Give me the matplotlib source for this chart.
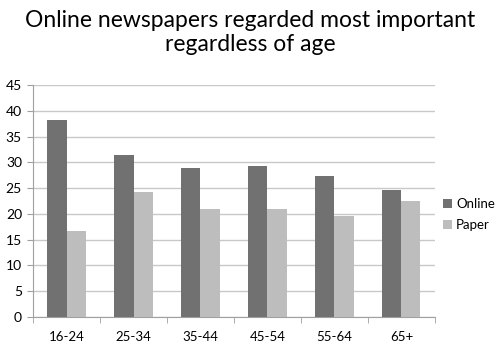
import matplotlib
matplotlib.use("Agg")
import matplotlib.pyplot as plt
import numpy as np

categories = ["16-24", "25-34", "35-44", "45-54", "55-64", "65+"]
online = [38.3, 31.4, 28.8, 29.2, 27.4, 24.6]
paper = [16.6, 24.2, 20.9, 20.9, 19.6, 22.4]
yticks = [0, 5, 10, 15, 20, 25, 30, 35, 40, 45]

plt.rcParams["font.family"] = ["Lato", "DejaVu Sans"]

fig = plt.figure(figsize=(5.01, 3.47), dpi=100)
ax = fig.add_axes([0.066, 0.087, 0.802, 0.668])

x = np.arange(len(categories))
w = 0.285
ax.bar(x - w / 2, online, w, color="#717171", label="Online", zorder=3)
ax.bar(x + w / 2, paper, w, color="#bdbdbd", label="Paper", zorder=3)

ax.set_xlim(-0.5, len(categories) - 0.5)
ax.set_ylim(0, 45)
ax.set_yticks(yticks)
ax.yaxis.grid(True, color="#c8c8c8", linewidth=1, zorder=0)

ax.set_xticks(x)
ax.set_xticklabels(categories, fontsize=9.5)
ax.set_xticks(np.arange(len(categories) + 1) - 0.5, minor=True)
ax.tick_params(axis="x", which="major", length=0, pad=10)
ax.tick_params(axis="x", which="minor", length=4, color="#a0a0a0")
ax.tick_params(axis="y", length=4, color="#a0a0a0", labelsize=10, pad=4)

for s in ["top", "right"]:
    ax.spines[s].set_visible(False)
for s in ["left", "bottom"]:
    ax.spines[s].set_color("#a0a0a0")

ax.legend(loc="center left", bbox_to_anchor=(1.0, 0.44), frameon=False,
          fontsize=9.5, handlelength=0.7, handleheight=0.7, handletextpad=0.3,
          labelspacing=0.7, borderaxespad=0.4, borderpad=0.2)

fig.text(0.5, 0.97, "Online newspapers regarded most important\nregardless of age",
         ha="center", va="top", fontsize=16.5, linespacing=1.15)

fig.savefig("out.png", dpi=100)
